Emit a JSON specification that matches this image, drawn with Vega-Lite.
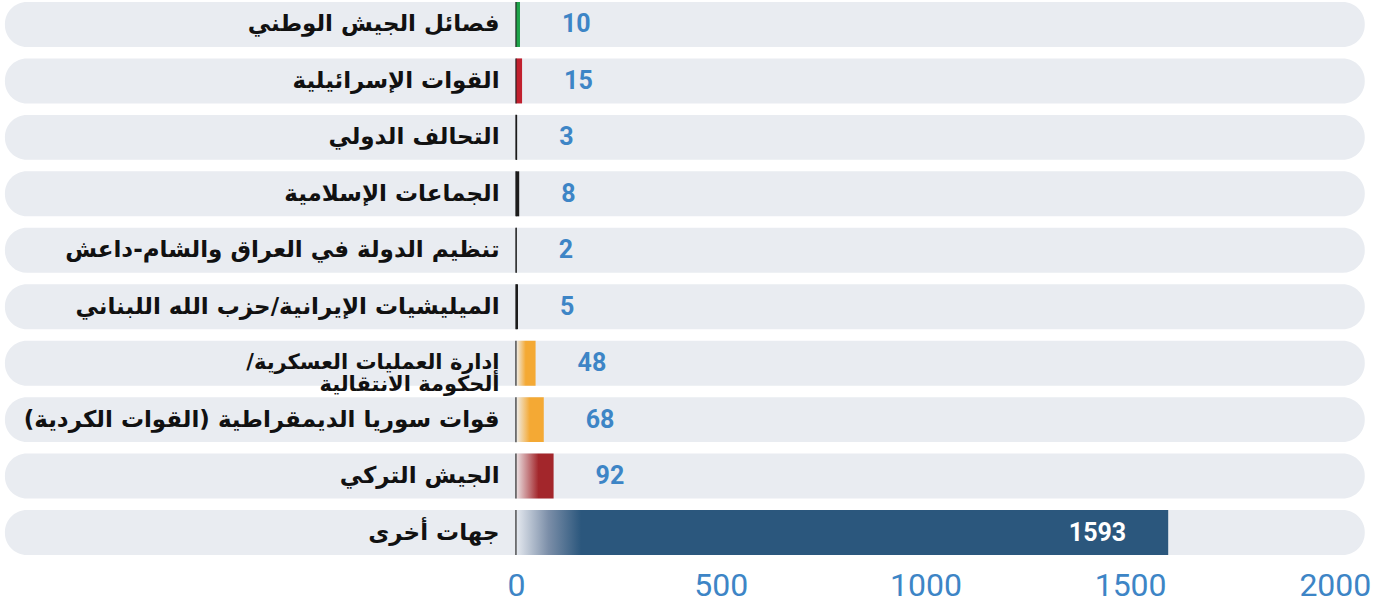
{
  "$schema": "https://vega.github.io/schema/vega-lite/v6.json",
  "width": 1393,
  "height": 557,
  "autosize": {"type": "none"},
  "padding": {"left": 0, "top": 0, "right": 0, "bottom": 50},
  "background": "white",
  "config": {"view": {"stroke": null}},
  "data": {"values": [
    {"cat": "فصائل الجيش الوطني", "v": 10},
    {"cat": "القوات الإسرائيلية", "v": 15},
    {"cat": "التحالف الدولي", "v": 3},
    {"cat": "الجماعات الإسلامية", "v": 8},
    {"cat": "تنظيم الدولة في العراق والشام-داعش", "v": 2},
    {"cat": "الميليشيات الإيرانية/حزب الله اللبناني", "v": 5},
    {"cat": "ادارة العمليات العسكرية/\u200f\nألحكومة الانتقالية", "v": 48},
    {"cat": "قوات سوريا الديمقراطية (القوات الكردية)", "v": 68},
    {"cat": "الجيش التركي", "v": 92},
    {"cat": "جهات أخرى", "v": 1593}
  ]},
  "encoding": {
    "y": {"field": "cat", "type": "nominal", "sort": null, "axis": null,
          "scale": {"paddingInner": 0.203, "paddingOuter": 0.035}}
  },
  "layer": [
    {
      "mark": {"type": "bar", "color": "#e9ecf1", "cornerRadius": 22},
      "encoding": {
        "x": {"datum": -1248, "type": "quantitative",
              "scale": {"domain": [-1260, 2142], "nice": false, "zero": false},
              "axis": {"values": [0, 500, 1000, 1500, 2000], "format": "d", "domain": false, "ticks": false, "grid": false,
                       "title": null, "labelColor": "#3d85c6", "labelFontSize": 32, "labelFont": "Roboto",
                       "labelPadding": 13, "labelFlush": false}},
        "x2": {"datum": 2073}
      }
    },
    {
      "transform": [{"filter": "datum.v == 10"}],
      "mark": {"type": "bar", "color": "#1fa34a"},
      "encoding": {"x": {"field": "v", "type": "quantitative"}, "x2": {"datum": 0}}
    },
    {
      "transform": [{"filter": "datum.v == 15"}],
      "mark": {"type": "bar", "color": "#c1202e"},
      "encoding": {"x": {"field": "v", "type": "quantitative"}, "x2": {"datum": 0}}
    },
    {
      "transform": [{"filter": "datum.v == 3 || datum.v == 8 || datum.v == 2 || datum.v == 5"}],
      "mark": {"type": "bar", "color": "#1c1c1c"},
      "encoding": {"x": {"field": "v", "type": "quantitative"}, "x2": {"datum": 0}}
    },
    {
      "transform": [{"filter": "datum.v == 48 || datum.v == 68"}],
      "mark": {"type": "bar", "color": {"gradient": "linear", "x1": 0, "x2": 1, "y1": 0, "y2": 0,
        "stops": [{"offset": 0, "color": "#eef0f2"}, {"offset": 0.5, "color": "#f4a934"}, {"offset": 1, "color": "#f4a934"}]}},
      "encoding": {"x": {"field": "v", "type": "quantitative"}, "x2": {"datum": 0}}
    },
    {
      "transform": [{"filter": "datum.v == 92"}],
      "mark": {"type": "bar", "color": {"gradient": "linear", "x1": 0, "x2": 1, "y1": 0, "y2": 0,
        "stops": [{"offset": 0, "color": "#ece4e6"}, {"offset": 0.6, "color": "#a3262b"}, {"offset": 1, "color": "#a3262b"}]}},
      "encoding": {"x": {"field": "v", "type": "quantitative"}, "x2": {"datum": 0}}
    },
    {
      "transform": [{"filter": "datum.v == 1593"}],
      "mark": {"type": "bar", "color": {"gradient": "linear", "x1": 0, "x2": 1, "y1": 0, "y2": 0,
        "stops": [{"offset": 0, "color": "#e6eaf0"}, {"offset": 0.05, "color": "#7b8ea8"}, {"offset": 0.1, "color": "#2b577d"}, {"offset": 1, "color": "#2b577d"}]}},
      "encoding": {"x": {"field": "v", "type": "quantitative"}, "x2": {"datum": 0}}
    },
    {
      "mark": {"type": "tick", "color": "#1c1c1c", "thickness": 1.6, "size": 45, "orient": "vertical"},
      "encoding": {"x": {"datum": 0, "type": "quantitative"}}
    },
    {
      "transform": [{"filter": "datum.v != 48"}],
      "mark": {"type": "text", "align": "right", "baseline": "middle", "font": "DejaVu Sans", "fontWeight": "bold",
               "fontSize": 23, "color": "#111111"},
      "encoding": {"x": {"datum": -40, "type": "quantitative"}, "text": {"field": "cat"}}
    },
    {
      "transform": [{"filter": "datum.v == 48"}],
      "mark": {"type": "text", "align": "right", "baseline": "middle", "font": "DejaVu Sans", "fontWeight": "bold",
               "fontSize": 21, "color": "#111111", "lineBreak": "\n", "lineHeight": 22},
      "encoding": {"x": {"datum": -40, "type": "quantitative"}, "text": {"field": "cat"}}
    },
    {
      "transform": [{"filter": "datum.v < 1000"}],
      "mark": {"type": "text", "align": "left", "baseline": "middle", "dx": 42, "font": "Liberation Sans Narrow, Roboto",
               "fontWeight": "bold", "fontSize": 25, "color": "#3d85c6"},
      "encoding": {"x": {"field": "v", "type": "quantitative"}, "text": {"field": "v"}}
    },
    {
      "transform": [{"filter": "datum.v >= 1000"}],
      "mark": {"type": "text", "align": "right", "baseline": "middle", "dx": -42, "font": "Liberation Sans Narrow, Roboto",
               "fontWeight": "bold", "fontSize": 25, "color": "#ffffff"},
      "encoding": {"x": {"field": "v", "type": "quantitative"}, "text": {"field": "v"}}
    }
  ]
}
